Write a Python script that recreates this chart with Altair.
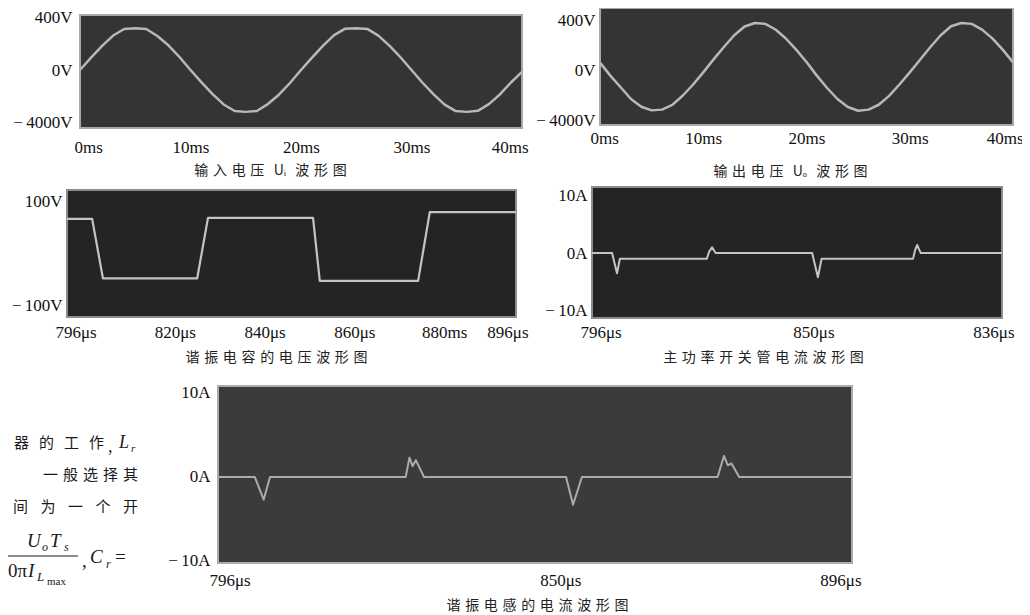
import altair as alt
import pandas as pd

W, H = 1014, 607          # whole canvas (page minus the 8px margin)
M = 8                     # page margin, used to convert page px -> canvas px

CJK = "Noto Sans CJK SC"
SERIF = "Liberation Serif"
SP = "\u2004"             # caption letter spacing
MINUS = "\u2212\u2009"

# ---------------- data ----------------
# Panel 1: input voltage Ui (time ms, volts)
P1_T = list(range(0, 41))
P1_V = [0, 95, 185, 265, 315, 322, 315, 262, 190, 100,
        0, -95, -185, -265, -315, -322, -315, -262, -190, -100,
        0, 95, 188, 268, 318, 322, 316, 264, 188, 98,
        0, -98, -188, -266, -316, -322, -314, -262, -188, -96,
        -15]

# Panel 2: output voltage Uo (time ms, volts)
P2_T = list(range(0, 41))
P2_V = [59, -45, -138, -232, -294, -323, -317, -279, -206, -118,
        -19, 85, 184, 278, 348, 376, 369, 324, 252, 163,
        64, -45, -144, -232, -296, -326, -317, -278, -207, -116,
        -19, 82, 184, 278, 350, 376, 369, 323, 253, 163,
        61]

# Panel 3: resonant capacitor voltage (time us, volts)
P3_T = [796, 801.6, 804.0, 825.0, 827.4, 850.8, 852.3, 874.2, 876.8, 896]
P3_V = [67, 67, -48, -48, 69, 69, -53, -53, 80, 80]

# Panel 4: main switch current (time us, amps)
P4_T = [796, 800.9, 802.1, 802.8, 824.0, 824.6, 825.3, 825.8, 826.2,
        849.7, 851.1, 852.0, 874.3, 874.8, 875.3, 875.8, 876.2, 896]
P4_V = [0, 0, -3.5, -1.0, -1.0, 0.3, 1.0, 0.4, 0,
        0, -4.2, -1.0, -1.0, 0.5, 1.4, 0.6, 0, 0]

# Panel 5: resonant inductor current (time us, amps)
P5_T = [796, 801.8, 803.2, 804.2, 825.6, 826.2, 826.7, 827.2, 828.5,
        850.9, 852.0, 853.4, 874.8, 875.8, 876.4, 877.0, 878.2, 896]
P5_V = [0, 0, -2.7, 0, 0, 2.3, 1.3, 2.0, 0,
        0, -3.3, 0, 0, 2.5, 1.4, 1.6, 0, 0]

# tick values and their (as printed) labels
P1_XTICKS = [0, 10, 20, 30, 40]
P1_XLABELS = ["0ms", "10ms", "20ms", "30ms", "40ms"]
P1_YTICKS = [-400, 0, 400]
P1_YLABELS = [MINUS + "4000V", "0V", "400V"]
P2_XTICKS = [0, 10, 20, 30, 40]
P2_XLABELS = ["0ms", "10ms", "20ms", "30ms", "40ms"]
P2_YTICKS = [-400, 0, 400]
P2_YLABELS = [MINUS + "4000V", "0V", "400V"]
P3_XTICKS = [796, 820, 840, 860, 880, 896]
P3_XLABELS = ["796\u03bcs", "820\u03bcs", "840\u03bcs", "860\u03bcs", "880ms", "896\u03bcs"]
P3_YTICKS = [-100, 100]
P3_YLABELS = [MINUS + "100V", "100V"]
P4_XTICKS = [796, 850, 896]
P4_XLABELS = ["796\u03bcs", "850\u03bcs", "836\u03bcs"]
P4_YTICKS = [-10, 0, 10]
P4_YLABELS = [MINUS + "10A", "0A", "10A"]
P5_XTICKS = [796, 850, 896]
P5_XLABELS = ["796\u03bcs", "850\u03bcs", "896\u03bcs"]
P5_YTICKS = [-10, 0, 10]
P5_YLABELS = [MINUS + "10A", "0A", "10A"]

CAPTIONS = [
    SP.join("输入电压") + SP * 2 + "U\u1d62" + SP * 2 + SP.join("波形图"),
    SP.join("输出电压") + SP * 2 + "U\u2092" + SP * 2 + SP.join("波形图"),
    SP.join("谐振电容的电压波形图"),
    SP.join("主功率开关管电流波形图"),
    SP.join("谐振电感的电流波形图"),
]


def lab_expr(vals, labels):
    parts = [f"datum.value == {v} ? '{l}'" for v, l in zip(vals, labels)]
    return " : ".join(parts) + " : ''"


def panel(t, v, xdom, ydom, box, xticks, xlabels, yticks, ylabels, caption,
          cap, xpad, ypad, flush_off, fill, stroke, line_color, lw):
    # box: page pixel rectangle (left, top, right, bottom)
    left, top, right, bottom = [b - M for b in box]
    xs = alt.Scale(domain=xdom, range=[left, right], nice=False, zero=False)
    ys = alt.Scale(domain=ydom, range=[bottom, top], nice=False, zero=False)
    xaxis = alt.Axis(orient="bottom", values=xticks, labelExpr=lab_expr(xticks, xlabels),
                     title=caption, titleX=cap[0] - M, titleY=cap[1] - M - bottom,
                     titleAlign="center", titleBaseline="middle",
                     offset=bottom - H, domain=False, ticks=False, tickSize=0, grid=False,
                     labelPadding=xpad, labelBaseline="middle",
                     labelFlush=True, labelFlushOffset=flush_off, labelOverlap=False)
    yaxis = alt.Axis(orient="left", values=yticks, labelExpr=lab_expr(yticks, ylabels),
                     title=None, offset=-left, domain=False, ticks=False, tickSize=0,
                     grid=False, labelPadding=ypad, labelFlush=False, labelOverlap=False)
    bg_df = pd.DataFrame({"x0": [xdom[0]], "x1": [xdom[1]], "y0": [ydom[0]], "y1": [ydom[1]]})
    bg = alt.Chart(bg_df).mark_rect(fill=fill, stroke=stroke, strokeWidth=2).encode(
        x=alt.X("x0:Q", scale=xs, axis=xaxis), x2="x1",
        y=alt.Y("y0:Q", scale=ys, axis=yaxis), y2="y1")
    ln = alt.Chart(pd.DataFrame({"t": t, "v": v})).mark_line(
        color=line_color, strokeWidth=lw, strokeJoin="round").encode(
        x=alt.X("t:Q", scale=xs, axis=xaxis),
        y=alt.Y("v:Q", scale=ys, axis=yaxis))
    return alt.layer(bg, ln)


p1 = panel(P1_T, P1_V, [0, 40], [-446, 423], (80, 15, 522, 128),
           P1_XTICKS, P1_XLABELS, P1_YTICKS, P1_YLABELS, CAPTIONS[0], (270, 170),
           19, 8, 6, "#343434", "#a8a8a8", "#b8b8b8", 2.5)
p2 = panel(P2_T, P2_V, [0, 40], [-440, 496], (600, 8, 1013, 125),
           P2_XTICKS, P2_XLABELS, P2_YTICKS, P2_YLABELS, CAPTIONS[1], (790, 171),
           13, 5, 10, "#343434", "#a8a8a8", "#b8b8b8", 2.5)
p3 = panel(P3_T, P3_V, [796, 896], [-123, 123], (67, 190, 516, 317),
           P3_XTICKS, P3_XLABELS, P3_YTICKS, P3_YLABELS, CAPTIONS[2], (276, 357),
           15, 5, 12, "#242424", "#8c8c8c", "#c4c4c4", 2.2)
p4 = panel(P4_T, P4_V, [796, 896], [-11.3, 11.5], (592, 187, 1002, 318),
           P4_XTICKS, P4_XLABELS, P4_YTICKS, P4_YLABELS, CAPTIONS[3], (763, 357),
           14, 5, 12, "#242424", "#8c8c8c", "#c4c4c4", 2.0)
p5 = panel(P5_T, P5_V, [796, 896], [-10.24, 10.83], (218, 386, 852, 563),
           P5_XTICKS, P5_XLABELS, P5_YTICKS, P5_YLABELS, CAPTIONS[4], (537, 605),
           17, 8, 9, "#3b3b3b", "#ababab", "#ababab", 2.0)

# ---------------- stray body text at the left edge ----------------
ONE = pd.DataFrame({"k": [0]})


def txt(s, x, y, size=15, font=CJK, style="normal", align="left"):
    return alt.Chart(ONE).mark_text(text=s, font=font, fontSize=size, fontStyle=style,
                                    align=align, baseline="middle", color="#1a1a1a").encode(
        x=alt.value(x - M), y=alt.value(y - M))


WIDE = "\u2002\u2004"
texts = [
    txt("\u2002\u2006".join("器的工作"), 104, 443, align="right"),
    txt(",", 108, 447, size=18, font=SERIF),
    txt("L", 119, 443, size=18, font=SERIF, style="italic"),
    txt("r", 131, 449, size=11, font=SERIF, style="italic"),
    txt(SP.join("一般选择其"), 138, 475, align="right"),
    txt(WIDE.join("间为一个开"), 138, 507, align="right"),
    txt("U", 27, 541, size=19, font=SERIF, style="italic"),
    txt("o", 42, 547, size=12, font=SERIF, style="italic"),
    txt("T", 50, 541, size=19, font=SERIF, style="italic"),
    txt("s", 64, 547, size=12, font=SERIF, style="italic"),
    txt("0\u03c0", 27, 571, size=19, font=SERIF, align="right"),
    txt("I", 28, 571, size=19, font=SERIF, style="italic"),
    txt("L", 37, 577, size=13, font=SERIF, style="italic"),
    txt("max", 47, 582, size=11, font=SERIF),
    txt(",", 82, 561, size=19, font=SERIF),
    txt("C", 90, 557, size=19, font=SERIF, style="italic"),
    txt("r", 106, 564, size=12, font=SERIF, style="italic"),
    txt("=", 115, 557, size=19, font=SERIF),
]
frac = alt.Chart(ONE).mark_rule(color="#1a1a1a", strokeWidth=1).encode(
    x=alt.value(0), x2=alt.value(78 - M), y=alt.value(556 - M))

chart = alt.layer(p1, p2, p3, p4, p5, frac, *texts).resolve_scale(
    x="independent", y="independent").resolve_axis(
    x="independent", y="independent").properties(
    width=W, height=H, padding=0, autosize=alt.AutoSizeParams(type="none"),
    background="white").configure_view(stroke=None).configure_axis(
    labelFont=SERIF, labelFontSize=17, labelColor="#111111",
    titleFont=CJK, titleFontSize=14, titleFontWeight="normal", titleColor="#222222")

chart.save("out.html", embed_options={"renderer": "svg", "actions": False})
